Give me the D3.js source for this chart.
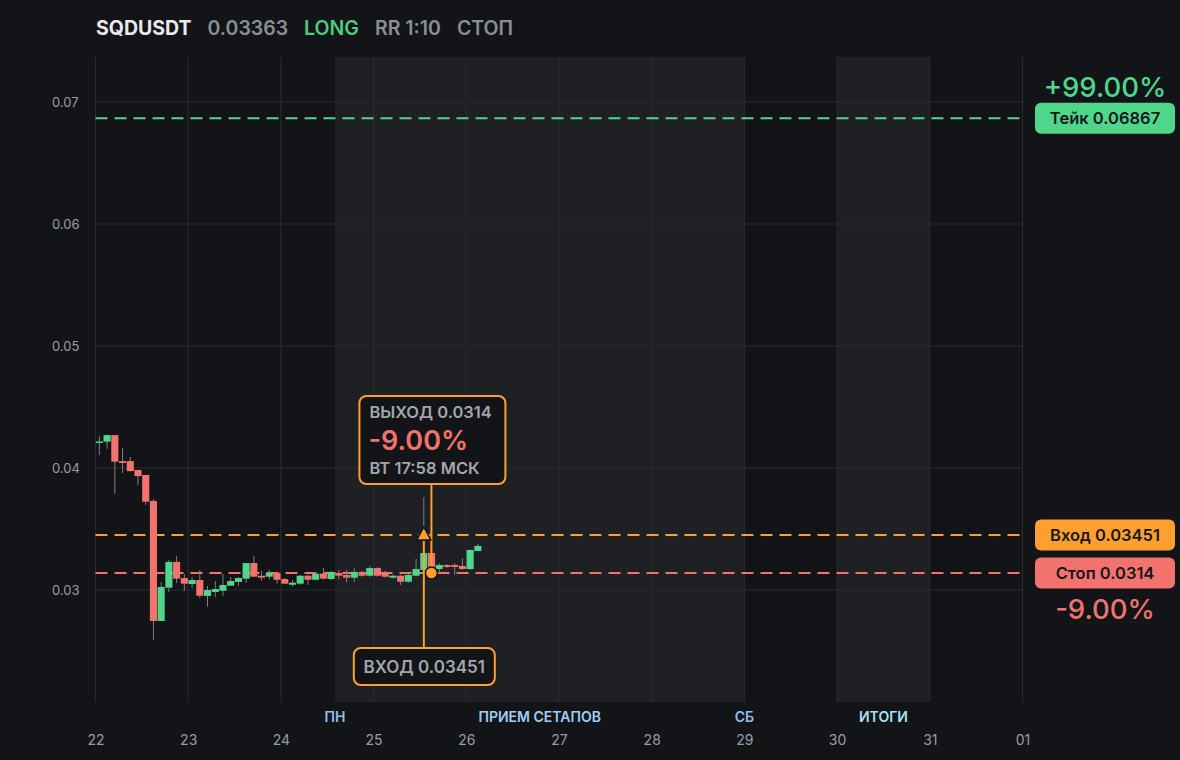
<!DOCTYPE html>
<html>
<head>
<meta charset="utf-8">
<title>SQDUSDT</title>
<script src="https://d3js.org/d3.v7.min.js"></script>
<style>
  * { margin: 0; padding: 0; }
  body { background: #131418; }
  svg { display: block; font-family: Inter, "Noto Sans", sans-serif; }
</style>
</head>
<body>
<div id="chart"></div>
<script>
// data: 2h candles from 22 Mar 2025 00:00 UTC
const firstCandle = Date.UTC(2025, 2, 22);
const candleHours = 2;
const open  = [0.04212,0.04216,0.04270,0.04056,0.04057,0.03984,0.03943,0.03730,0.02746,0.03019,
               0.03230,0.03098,0.03049,0.03082,0.02951,0.02984,0.02994,0.03035,0.03066,0.03093,
               0.03221,0.03117,0.03109,0.03139,0.03090,0.03043,0.03052,0.03117,0.03084,0.03134,
               0.03090,0.03139,0.03123,0.03101,0.03148,0.03117,0.03180,0.03148,0.03101,0.03117,
               0.03068,0.03117,0.03164,0.03303,0.03172,0.03205,0.03205,0.03197,0.03172,0.03320];
const high  = [0.04262,0.04272,0.04270,0.04164,0.04090,0.03984,0.03943,0.03746,0.03066,0.03246,
               0.03279,0.03131,0.03107,0.03164,0.03033,0.03074,0.03131,0.03107,0.03107,0.03221,
               0.03279,0.03158,0.03164,0.03139,0.03098,0.03082,0.03125,0.03125,0.03142,0.03180,
               0.03156,0.03164,0.03164,0.03178,0.03156,0.03197,0.03189,0.03158,0.03125,0.03125,
               0.03131,0.03254,0.03762,0.03311,0.03219,0.03213,0.03219,0.03260,0.03336,0.03377];
const low   = [0.04107,0.04156,0.03789,0.03959,0.03970,0.03861,0.03697,0.02590,0.02746,0.02984,
               0.03057,0.02992,0.03016,0.02934,0.02863,0.02943,0.02951,0.03041,0.03033,0.03060,
               0.03109,0.03076,0.03088,0.03052,0.03049,0.03027,0.03043,0.03043,0.03080,0.03085,
               0.03080,0.03090,0.03063,0.03068,0.03109,0.03109,0.03109,0.03101,0.03093,0.03041,
               0.03060,0.03109,0.03156,0.03139,0.03137,0.03180,0.03123,0.03164,0.03164,0.03320];
const close = [0.04218,0.04270,0.04052,0.04041,0.03975,0.03934,0.03724,0.02746,0.03025,0.03230,
               0.03093,0.03052,0.03082,0.02953,0.03000,0.03008,0.03041,0.03074,0.03098,0.03221,
               0.03109,0.03101,0.03139,0.03084,0.03052,0.03060,0.03117,0.03084,0.03134,0.03093,
               0.03148,0.03117,0.03101,0.03148,0.03117,0.03180,0.03117,0.03109,0.03117,0.03068,
               0.03123,0.03172,0.03303,0.03189,0.03205,0.03189,0.03189,0.03172,0.03328,0.03361];

const symbol = "SQDUSDT", lastPrice = "0.03363", side = "LONG", rr = "RR 1:10", status = "СТОП";
const takePrice = 0.06867, entryPrice = 0.03451, stopPrice = 0.0314;
const takePct = "+99.00%", stopPct = "-9.00%";
const entryTime = Date.UTC(2025, 2, 25, 13, 0);
const exitTime = Date.UTC(2025, 2, 25, 14, 58);
const exitLabel = "ВТ 17:58 МСК";
const yTicks = [0.03, 0.04, 0.05, 0.06, 0.07];
const sessions = [
  { from: Date.UTC(2025, 2, 24, 14), to: Date.UTC(2025, 2, 29), label: "ПРИЕМ СЕТАПОВ", color: "#9fcff5" },
  { from: Date.UTC(2025, 2, 30), to: Date.UTC(2025, 2, 31), label: "ИТОГИ", color: "#a8e2f5" }
];
const dayMarks = [
  { t: Date.UTC(2025, 2, 24, 14), label: "ПН" },
  { t: Date.UTC(2025, 2, 29), label: "СБ" }
];

const W = 1180, H = 760;
const plot = { left: 95.5, right: 1022.5, top: 57, bottom: 702 };
const C = { bg: "#131418", shade: "#1f2024", grid: "#2a2b30", text: "#9a9da5",
            green: "#4fd68b", red: "#f2726d", orange: "#ff9f2f", wick: "#7c7f86" };

const svg = d3.select("#chart").append("svg").attr("width", W).attr("height", H)
  .style("background", C.bg);

const x = d3.scaleUtc()
  .domain([Date.UTC(2025, 2, 22), Date.UTC(2025, 3, 1)])
  .range([plot.left, plot.right]);
const y = d3.scaleLinear()
  .domain([0.02082, 0.07369])
  .range([plot.bottom, plot.top]);

// shaded sessions
svg.append("g").selectAll("rect").data(sessions).join("rect")
  .attr("x", d => x(d.from)).attr("width", d => x(d.to) - x(d.from))
  .attr("y", plot.top).attr("height", plot.bottom - plot.top)
  .attr("fill", C.shade);

// grid
const days = x.ticks(d3.utcDay.every(1));
svg.append("g").selectAll("line").data(days).join("line")
  .attr("x1", d => x(d)).attr("x2", d => x(d))
  .attr("y1", plot.top).attr("y2", plot.bottom)
  .attr("stroke", C.grid).attr("stroke-width", 1);
svg.append("g").selectAll("line").data(yTicks).join("line")
  .attr("x1", plot.left).attr("x2", plot.right)
  .attr("y1", d => y(d)).attr("y2", d => y(d))
  .attr("stroke", C.grid).attr("stroke-width", 1);

// axes labels
const yAxis = svg.append("g").attr("transform", `translate(52,0)`)
  .call(d3.axisRight(y).tickValues(yTicks).tickFormat(d3.format(".2f")).tickSize(0));
yAxis.select(".domain").remove();
yAxis.selectAll("text").attr("x", 0).attr("fill", C.text).attr("font-size", 13).attr("font-family", "Inter");

const xAxis = svg.append("g").attr("transform", `translate(0,727)`)
  .call(d3.axisBottom(x).tickValues(days).tickFormat(d3.utcFormat("%d")).tickSize(0));
xAxis.select(".domain").remove();
xAxis.selectAll("text").attr("dy", 15).attr("fill", C.text).attr("font-size", 14).attr("font-family", "Inter");

svg.append("g").selectAll("text").data(sessions).join("text")
  .attr("x", d => x((d.from + d.to) / 2)).attr("y", 722)
  .attr("text-anchor", "middle").attr("font-size", 14).attr("font-weight", 600)
  .attr("fill", d => d.color).text(d => d.label);
svg.append("g").selectAll("text").data(dayMarks).join("text")
  .attr("x", d => x(d.t)).attr("y", 722)
  .attr("text-anchor", "middle").attr("font-size", 14).attr("font-weight", 600)
  .attr("fill", "#8ec0ee").text(d => d.label);

// level lines
const levels = [
  { p: takePrice, color: C.green },
  { p: entryPrice, color: C.orange },
  { p: stopPrice, color: C.red }
];
svg.append("g").selectAll("line").data(levels).join("line")
  .attr("x1", plot.left).attr("x2", 1020)
  .attr("y1", d => y(d.p)).attr("y2", d => y(d.p))
  .attr("stroke", d => d.color).attr("stroke-width", 2)
  .attr("stroke-dasharray", "12,7");

// candles
const candles = open.map((o, i) => ({
  t: firstCandle + (i + 0.5) * candleHours * 3600e3,
  o, h: high[i], l: low[i], c: close[i]
}));
const bw = x(firstCandle + candleHours * 3600e3) - x(firstCandle);
const cg = svg.append("g");
cg.selectAll("line").data(candles).join("line")
  .attr("x1", d => x(d.t)).attr("x2", d => x(d.t))
  .attr("y1", d => y(d.h)).attr("y2", d => y(d.l))
  .attr("stroke", C.wick).attr("stroke-width", 1);
cg.selectAll("rect").data(candles).join("rect")
  .attr("x", d => x(d.t) - bw * 0.46).attr("width", bw * 0.92)
  .attr("y", d => y(Math.max(d.o, d.c)))
  .attr("height", d => Math.max(1.5, Math.abs(y(d.o) - y(d.c))))
  .attr("fill", d => d.c >= d.o ? C.green : C.red);

// entry / exit markers and callouts
const ex = x(entryTime), ey = y(entryPrice);
const xx = x(exitTime), xy = y(stopPrice);

svg.append("line").attr("x1", xx).attr("x2", xx).attr("y1", 484).attr("y2", xy)
  .attr("stroke", C.orange).attr("stroke-width", 2);
svg.append("line").attr("x1", ex).attr("x2", ex).attr("y1", ey + 6).attr("y2", 648)
  .attr("stroke", C.orange).attr("stroke-width", 2);

svg.append("path")
  .attr("d", `M${ex},${ey - 8} L${ex + 7},${ey + 5} L${ex - 7},${ey + 5} Z`)
  .attr("fill", C.orange).attr("stroke", C.bg).attr("stroke-width", 1.5);
svg.append("circle").attr("cx", xx).attr("cy", xy).attr("r", 6)
  .attr("fill", C.orange).attr("stroke", C.bg).attr("stroke-width", 1.5);

// exit callout
const exitBox = svg.append("g").attr("transform", `translate(${xx - 72},396)`);
exitBox.append("rect").attr("width", 146).attr("height", 88).attr("rx", 7)
  .attr("fill", C.bg).attr("stroke", C.orange).attr("stroke-width", 2);
exitBox.append("text").attr("x", 10).attr("y", 22).attr("font-size", 16.5).attr("font-weight", 600)
  .attr("fill", "#a3a6ad").text("ВЫХОД " + stopPrice);
exitBox.append("text").attr("x", 9).attr("y", 54).attr("font-size", 27).attr("font-weight", 600)
  .attr("fill", C.red).text(stopPct);
exitBox.append("text").attr("x", 10).attr("y", 78).attr("font-size", 16.5).attr("font-weight", 600)
  .attr("fill", "#a3a6ad").text(exitLabel);

// entry callout
const entryBox = svg.append("g").attr("transform", `translate(${ex - 70},648)`);
entryBox.append("rect").attr("width", 141).attr("height", 37).attr("rx", 7)
  .attr("fill", C.bg).attr("stroke", C.orange).attr("stroke-width", 2);
entryBox.append("text").attr("x", 70.5).attr("y", 25).attr("text-anchor", "middle")
  .attr("font-size", 17).attr("font-weight", 600).attr("fill", "#a3a6ad")
  .text("ВХОД " + entryPrice);

// right side price tags
const tags = [
  { p: takePrice, label: "Тейк " + takePrice, color: C.green },
  { p: entryPrice, label: "Вход " + entryPrice, color: C.orange },
  { p: stopPrice, label: "Стоп " + stopPrice, color: C.red }
];
const tg = svg.append("g").selectAll("g").data(tags).join("g")
  .attr("transform", d => `translate(1035,${y(d.p) - 15.5})`);
tg.append("rect").attr("width", 140).attr("height", 31).attr("rx", 6).attr("fill", d => d.color);
tg.append("text").attr("x", 70).attr("y", 21.5).attr("text-anchor", "middle")
  .attr("font-size", 16.5).attr("font-weight", 600).attr("fill", "#17181b").text(d => d.label);

svg.append("text").attr("x", 1105).attr("y", 97).attr("text-anchor", "middle")
  .attr("font-size", 27.5).attr("font-weight", 500).attr("fill", C.green).text(takePct);
svg.append("text").attr("x", 1105).attr("y", 619).attr("text-anchor", "middle")
  .attr("font-size", 27.5).attr("font-weight", 500).attr("fill", C.red).text(stopPct);

// header
const head = svg.append("text").attr("x", 96).attr("y", 35)
  .attr("font-size", 19.5).attr("font-weight", 600);
head.append("tspan").attr("fill", "#e9e9ec").attr("font-weight", 700).text(symbol);
head.append("tspan").attr("dx", 16).attr("fill", "#8b8e96").text(lastPrice);
head.append("tspan").attr("dx", 16).attr("fill", "#4ecb7f").text(side);
head.append("tspan").attr("dx", 16).attr("fill", "#8b8e96").text(rr);
head.append("tspan").attr("dx", 16).attr("fill", "#8b8e96").text(status);
</script>
</body>
</html>
